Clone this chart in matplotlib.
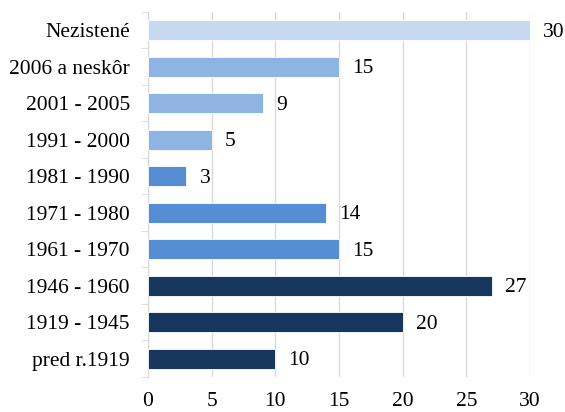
import matplotlib
matplotlib.use("Agg")
import matplotlib.pyplot as plt
import numpy as np

categories = ["Nezistené", "2006 a neskôr", "2001 - 2005", "1991 - 2000", "1981 - 1990",
              "1971 - 1980", "1961 - 1970", "1946 - 1960", "1919 - 1945", "pred r.1919"]
values = [30, 15, 9, 5, 3, 14, 15, 27, 20, 10]
colors = ["#C6D9F1", "#8EB4E3", "#8EB4E3", "#8EB4E3", "#558ED5",
          "#558ED5", "#558ED5", "#17375E", "#17375E", "#17375E"]
xticks = [0, 5, 10, 15, 20, 25, 30]

plt.rcParams['font.family'] = ['Liberation Serif', 'DejaVu Serif']
plt.rcParams['font.size'] = 15.5

fig = plt.figure(figsize=(5.65, 4.12), dpi=100)
ax = fig.add_axes([0.262, 0.085, 0.676, 0.886])

y = np.arange(len(categories))
ax.barh(y, values, height=0.55, color=colors, edgecolor="white", linewidth=0.6, zorder=3)
ax.set_ylim(len(categories) - 0.5, -0.5)
ax.set_xlim(0, 30)
ax.set_yticks(y)
ax.set_yticklabels(categories)
ax.set_yticks(np.arange(-0.5, len(categories), 1), minor=True)
ax.tick_params(axis='y', which='major', length=0, pad=13)
ax.tick_params(axis='y', which='minor', length=5, color="#D9D9D9", direction='out')
ax.set_xticks(xticks)
ax.tick_params(axis='x', length=0, pad=11)
ax.grid(axis='x', color="#D9D9D9", linewidth=1, zorder=0)
for s in ["top", "right", "bottom"]:
    ax.spines[s].set_visible(False)
ax.spines["left"].set_color("#D9D9D9")

for yi, v in zip(y, values):
    ax.annotate(str(v), (v, yi), xytext=(9.5, -1.5), textcoords="offset points",
                va="center", ha="left", fontsize=15.5)

fig.savefig("out.png", dpi=100)
